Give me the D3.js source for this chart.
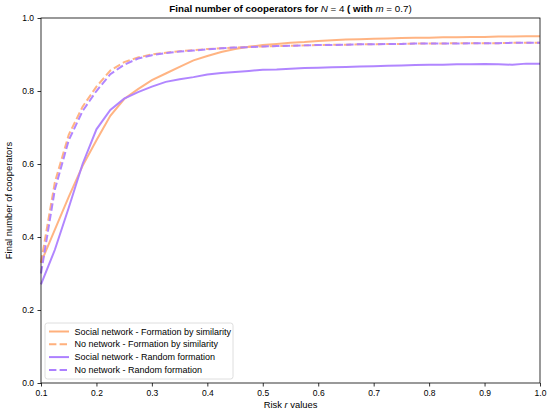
<!DOCTYPE html>
<html>
<head>
<meta charset="utf-8">
<script src="https://cdn.jsdelivr.net/npm/d3@7"></script>
<style>
  body { margin: 0; background: #fff; }
  svg { font-family: "Liberation Sans", Arial, sans-serif; }
</style>
</head>
<body>
<svg id="chart" width="550" height="416"></svg>
<script>
const riskValues = [0.1, 0.125, 0.15, 0.175, 0.2, 0.225, 0.25, 0.275, 0.3, 0.325, 0.35, 0.375,
  0.4, 0.425, 0.45, 0.475, 0.5, 0.525, 0.55, 0.575, 0.6, 0.625, 0.65, 0.675, 0.7, 0.725,
  0.75, 0.775, 0.8, 0.825, 0.85, 0.875, 0.9, 0.925, 0.95, 0.975, 1.0];

const socialSimilarity = [0.33, 0.42, 0.51, 0.595, 0.665, 0.732, 0.778, 0.805, 0.83, 0.848, 0.866, 0.884,
  0.896, 0.907, 0.915, 0.921, 0.926, 0.929, 0.932, 0.934, 0.937, 0.939, 0.941, 0.942, 0.943, 0.944,
  0.945, 0.946, 0.946, 0.947, 0.947, 0.948, 0.948, 0.949, 0.949, 0.95, 0.95];

const noNetSimilarity = [0.33, 0.55, 0.68, 0.757, 0.812, 0.856, 0.879, 0.892, 0.9, 0.905, 0.909, 0.912,
  0.915, 0.917, 0.919, 0.921, 0.922, 0.923, 0.924, 0.925, 0.926, 0.927, 0.927, 0.928, 0.928, 0.929,
  0.929, 0.93, 0.93, 0.93, 0.931, 0.931, 0.931, 0.931, 0.932, 0.932, 0.932];

const socialRandom = [0.27, 0.365, 0.48, 0.6, 0.695, 0.748, 0.779, 0.797, 0.812, 0.825, 0.832, 0.838,
  0.845, 0.849, 0.852, 0.855, 0.858, 0.859, 0.861, 0.863, 0.864, 0.865, 0.866, 0.867, 0.868, 0.869,
  0.87, 0.871, 0.872, 0.872, 0.873, 0.873, 0.874, 0.873, 0.872, 0.875, 0.875];

const noNetRandom = [0.3, 0.53, 0.665, 0.745, 0.8, 0.846, 0.872, 0.889, 0.898, 0.904, 0.908, 0.911,
  0.914, 0.917, 0.919, 0.92, 0.922, 0.923, 0.924, 0.925, 0.926, 0.926, 0.927, 0.928, 0.928, 0.929,
  0.929, 0.93, 0.93, 0.93, 0.93, 0.931, 0.931, 0.931, 0.932, 0.932, 0.932];

const xTicks = [0.1, 0.2, 0.3, 0.4, 0.5, 0.6, 0.7, 0.8, 0.9, 1.0];
const yTicks = [0.0, 0.2, 0.4, 0.6, 0.8, 1.0];

const orange = "#ffb07c";
const purple = "#ad80ff";

const series = [
  { label: "Social network - Formation by similarity", values: socialSimilarity, color: orange, dash: null },
  { label: "No network - Formation by similarity", values: noNetSimilarity, color: orange, dash: "7.4,3.2" },
  { label: "Social network - Random formation", values: socialRandom, color: purple, dash: null },
  { label: "No network - Random formation", values: noNetRandom, color: purple, dash: "7.4,3.2" },
];

const svg = d3.select("#chart");
const margin = { top: 18, right: 10, bottom: 33, left: 41 };
const width = 550 - margin.left - margin.right;
const height = 416 - margin.top - margin.bottom;

const x = d3.scaleLinear().domain([0.1, 1.0]).range([0, width]);
const y = d3.scaleLinear().domain([0, 1]).range([height, 0]);

const g = svg.append("g").attr("transform", `translate(${margin.left},${margin.top})`);

const line = d3.line()
  .x((d, i) => x(riskValues[i]))
  .y((d) => y(d));

// lines, drawn in legend order so the purple dashes sit on top
series.forEach((s) => {
  g.append("path")
    .datum(s.values)
    .attr("fill", "none")
    .attr("stroke", s.color)
    .attr("stroke-width", 2)
    .attr("stroke-dasharray", s.dash)
    .attr("opacity", 0.95)
    .attr("d", line);
});

// axes
const xAxis = g.append("g")
  .attr("transform", `translate(0,${height})`)
  .call(d3.axisBottom(x).tickValues(xTicks).tickFormat(d3.format(".1f")).tickSizeOuter(0).tickSize(3.5).tickPadding(3.5));
const yAxis = g.append("g")
  .call(d3.axisLeft(y).tickValues(yTicks).tickFormat(d3.format(".1f")).tickSizeOuter(0).tickSize(3.5).tickPadding(3.5));

[xAxis, yAxis].forEach((a) => {
  a.select(".domain").remove();
  a.selectAll("line").attr("stroke", "#000").attr("stroke-width", 0.8);
  a.selectAll("text").attr("font-size", 8.5).attr("fill", "#000")
    .attr("font-family", "Liberation Sans, Arial, sans-serif");
});

// frame
g.append("rect")
  .attr("width", width)
  .attr("height", height)
  .attr("fill", "none")
  .attr("stroke", "#000")
  .attr("stroke-width", 0.8);

// title
const title = svg.append("text")
  .attr("x", margin.left + width / 2)
  .attr("y", 12)
  .attr("text-anchor", "middle")
  .attr("font-size", 9.8)
  .attr("font-weight", "bold");
title.append("tspan").text("Final number of cooperators for ");
title.append("tspan").attr("font-style", "italic").attr("font-weight", "normal").text("N");
title.append("tspan").attr("font-weight", "normal").text(" = 4");
title.append("tspan").text(" ( with ");
title.append("tspan").attr("font-style", "italic").attr("font-weight", "normal").text("m");
title.append("tspan").attr("font-weight", "normal").text(" = 0.7)");

// axis labels
const xLabel = svg.append("text")
  .attr("x", margin.left + width / 2)
  .attr("y", 408)
  .attr("text-anchor", "middle")
  .attr("font-size", 9.4);
xLabel.append("tspan").text("Risk ");
xLabel.append("tspan").attr("font-style", "italic").text("r");
xLabel.append("tspan").text(" values");

svg.append("text")
  .attr("transform", `translate(12,${margin.top + height / 2}) rotate(-90)`)
  .attr("text-anchor", "middle")
  .attr("font-size", 9.4)
  .text("Final number of cooperators");

// legend
const legend = g.append("g").attr("transform", `translate(4,${height - 60})`);
legend.append("rect")
  .attr("width", 188)
  .attr("height", 56)
  .attr("rx", 2.5)
  .attr("fill", "#fff")
  .attr("fill-opacity", 0.8)
  .attr("stroke", "#d6d6d6")
  .attr("stroke-width", 0.8);

const rows = legend.selectAll(".row")
  .data(series)
  .join("g")
  .attr("class", "row")
  .attr("transform", (d, i) => `translate(0,${8.5 + i * 12.8})`);

rows.append("line")
  .attr("x1", 4)
  .attr("x2", 24)
  .attr("stroke", (d) => d.color)
  .attr("stroke-width", 2)
  .attr("stroke-dasharray", (d) => d.dash);

rows.append("text")
  .attr("x", 29.5)
  .attr("dy", "0.35em")
  .attr("font-size", 9)
  .text((d) => d.label);
</script>
</body>
</html>
